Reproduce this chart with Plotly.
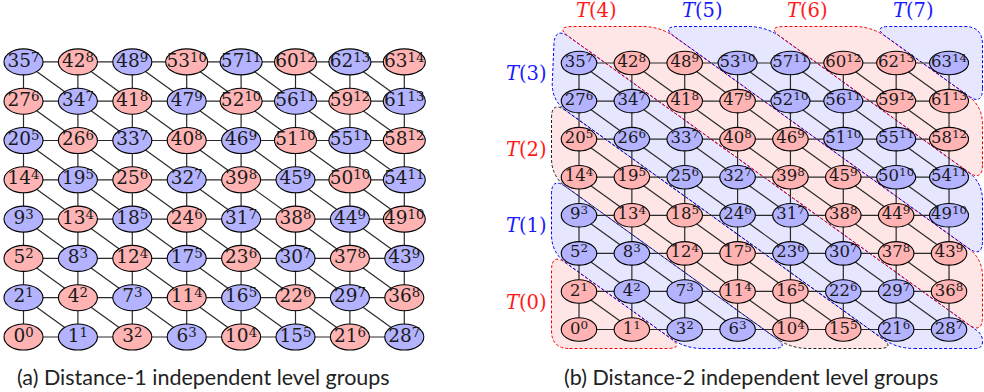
import math
import plotly.graph_objects as go

# ---------------- data (rows listed bottom -> top, columns left -> right) ----------------
VALUES = [
    [0, 1, 3, 6, 10, 15, 21, 28],
    [2, 4, 7, 11, 16, 22, 29, 36],
    [5, 8, 12, 17, 23, 30, 37, 43],
    [9, 13, 18, 24, 31, 38, 44, 49],
    [14, 19, 25, 32, 39, 45, 50, 54],
    [20, 26, 33, 40, 46, 51, 55, 58],
    [27, 34, 41, 47, 52, 56, 59, 61],
    [35, 42, 48, 53, 57, 60, 62, 63],
]
LEVELS = [
    [0, 1, 2, 3, 4, 5, 6, 7],
    [1, 2, 3, 4, 5, 6, 7, 8],
    [2, 3, 4, 5, 6, 7, 8, 9],
    [3, 4, 5, 6, 7, 8, 9, 10],
    [4, 5, 6, 7, 8, 9, 10, 11],
    [5, 6, 7, 8, 9, 10, 11, 12],
    [6, 7, 8, 9, 10, 11, 12, 13],
    [7, 8, 9, 10, 11, 12, 13, 14],
]
GROUP_IDS = [0, 1, 2, 3, 4, 5, 6, 7]
CAPTIONS = ["(a) Distance-1 independent level groups",
            "(b) Distance-2 independent level groups"]

# ---------------- style ----------------
W, H = 984, 392
RED_NODE, BLUE_NODE = "#ffb3b3", "#b3b3ff"
RED_BAND, BLUE_BAND = "#ffe6e6", "#e6e6ff"
BORDER_COLORS = ["#ff0000", "#0000ff", "#222222", "#0000ff",
                 "#ff0000", "#0000ff", "#ff0000", "#0000ff"]
EDGE_COLOR = "#2a2a2a"
TEXT_COLOR = "#1a1a1a"
NODE_FONT = "DejaVu Serif"
SUP_SCALE = 0.72      # superscript size relative to main text
SUP_RAISE = 0.30      # superscript baseline raise (em of main text)

PANELS = {
    "a": dict(xa="x", ya="y", x0=23.5, y0=337.0, sx=54.4, sy=39.3, dom=(0.0, 0.5),
              font=18.5, w_short=39, w_long=42, h=26),
    "b": dict(xa="x2", ya="y2", x0=579.0, y0=329.5, sx=52.86, sy=38.07, dom=(0.5, 1.0),
              font=16.5, w_short=35.5, w_long=39, h=23.5),
}

NROWS = len(VALUES)
NCOLS = len(VALUES[0])

fig = go.Figure()
shapes_fill, shapes_border, shapes_edges, shapes_nodes = [], [], [], []


def node_color(panel, lvl):
    if panel == "a":
        return RED_NODE if lvl % 2 == 0 else BLUE_NODE
    return RED_NODE if (lvl // 2) % 2 == 0 else BLUE_NODE


# ---------------- bands for panel (b) ----------------
def clip_halfplane(poly, f):
    out = []
    n = len(poly)
    for i in range(n):
        P, Q = poly[i], poly[(i + 1) % n]
        fp, fq = f(P), f(Q)
        if fp >= 0:
            out.append(P)
        if (fp >= 0) != (fq >= 0):
            t = fp / (fp - fq)
            out.append((P[0] + t * (Q[0] - P[0]), P[1] + t * (Q[1] - P[1])))
    return out


def rounded_path(poly, sx, sy, rad):
    def dist(a, b):
        return math.hypot((a[0] - b[0]) * sx, (a[1] - b[1]) * sy)
    pts = []
    for p in poly:
        if not pts or dist(p, pts[-1]) > 6:
            pts.append(p)
    if len(pts) > 2 and dist(pts[0], pts[-1]) <= 6:
        pts.pop()
    n = len(pts)
    segs = []
    for i in range(n):
        V, A, B = pts[i], pts[i - 1], pts[(i + 1) % n]
        la, lb = dist(V, A), dist(V, B)
        d = min(rad, 0.5 * la, 0.5 * lb)
        P1 = (V[0] + (A[0] - V[0]) * d / la, V[1] + (A[1] - V[1]) * d / la)
        P2 = (V[0] + (B[0] - V[0]) * d / lb, V[1] + (B[1] - V[1]) * d / lb)
        segs.append((P1, V, P2))
    f = lambda p: f"{p[0]:.4f},{p[1]:.4f}"
    path = "M " + f(segs[0][2])
    for i in list(range(1, n)) + [0]:
        P1, V, P2 = segs[i]
        path += f" L {f(P1)} Q {f(V)} {f(P2)}"
    return path + " Z"


pb = PANELS["b"]
L = (551.5 - pb["x0"]) / pb["sx"]
R = (982.5 - pb["x0"]) / pb["sx"]
T = pb["y0"] / pb["sy"] - 26.5 / pb["sy"]
B = (pb["y0"] - 348.5) / pb["sy"]
rect = [(L, B), (R, B), (R, T), (L, T)]
ngroups = len(GROUP_IDS)
for k in GROUP_IDS:
    poly = rect
    if k > 0:
        lo = 2 * k - 0.5
        poly = clip_halfplane(poly, lambda p, lo=lo: p[0] + p[1] - lo)
    if k < ngroups - 1:
        hi = 2 * k + 1.5
        poly = clip_halfplane(poly, lambda p, hi=hi: hi - (p[0] + p[1]))
    path = rounded_path(poly, pb["sx"], pb["sy"], 18)
    shapes_fill.append(dict(type="path", path=path, xref="x2", yref="y2", layer="below",
                            fillcolor=RED_BAND if k % 2 == 0 else BLUE_BAND,
                            line=dict(width=0)))
    shapes_border.append(dict(type="path", path=path, xref="x2", yref="y2", layer="below",
                              fillcolor="rgba(0,0,0,0)",
                              line=dict(color=BORDER_COLORS[k], width=1, dash="3px,2px")))

# ---------------- grids ----------------
for key, P in PANELS.items():
    xa, ya = P["xa"], P["ya"]
    F = P["font"]
    # edges
    for r in range(NROWS):
        for c in range(NCOLS):
            nbrs = []
            if c + 1 < NCOLS:
                nbrs.append((c + 1, r))
            if r + 1 < NROWS:
                nbrs.append((c, r + 1))
            if c + 1 < NCOLS and r - 1 >= 0:
                nbrs.append((c + 1, r - 1))
            for (c2, r2) in nbrs:
                shapes_edges.append(dict(type="line", xref=xa, yref=ya, layer="below",
                                         x0=c, y0=r, x1=c2, y1=r2,
                                         line=dict(color=EDGE_COLOR, width=1.2)))
    # nodes
    xs, ys, texts = [], [], []
    sup_style = (f"font-size:{F * SUP_SCALE:.1f}px;"
                 f"baseline-shift:{F * SUP_RAISE:.1f}px")
    for r in range(NROWS):
        for c in range(NCOLS):
            lvl = LEVELS[r][c]
            w = P["w_long"] if lvl >= 10 else P["w_short"]
            rx = w / 2 / P["sx"]
            ry = P["h"] / 2 / P["sy"]
            shapes_nodes.append(dict(type="circle", xref=xa, yref=ya, layer="below",
                                     x0=c - rx, x1=c + rx, y0=r - ry, y1=r + ry,
                                     fillcolor=node_color(key, lvl),
                                     line=dict(color="#000000", width=1.1)))
            xs.append(c)
            ys.append(r)
            texts.append(f"{VALUES[r][c]}<span style='{sup_style}'>{lvl}</span>")
    fig.add_trace(go.Scatter(x=xs, y=ys, text=texts, mode="text", xaxis=xa, yaxis=ya,
                             textposition="middle center", hoverinfo="skip",
                             textfont=dict(family=NODE_FONT, size=F, color=TEXT_COLOR),
                             showlegend=False))

# ---------------- axes ----------------
def axis_ranges(P):
    p0, p1 = P["dom"][0] * W, P["dom"][1] * W
    xr = [(p0 - P["x0"]) / P["sx"], (p1 - P["x0"]) / P["sx"]]
    yr = [(P["y0"] - H) / P["sy"], P["y0"] / P["sy"]]
    return xr, yr


ax_common = dict(visible=False, showgrid=False, zeroline=False, fixedrange=True)
xr, yr = axis_ranges(PANELS["a"])
xr2, yr2 = axis_ranges(PANELS["b"])

annotations = []
for k in GROUP_IDS:
    if k < 4:
        ax_x, ax_y = -1.0, 2 * k + 0.72
    else:
        ax_x, ax_y = 2 * (k - 4) + 0.33, 8.39
    annotations.append(dict(x=ax_x, y=ax_y, xref="x2", yref="y2", showarrow=False,
                            text=f"<i>T</i>({k})",
                            font=dict(family="DejaVu Serif", size=19.5,
                                      color="#ff1a1a" if k % 2 == 0 else "#1a1aff"),
                            xanchor="center", yanchor="middle"))
for cap, cx in zip(CAPTIONS, [203, 751]):
    annotations.append(dict(x=cx / W, y=1 - 377 / H, xref="paper", yref="paper",
                            showarrow=False, text=cap,
                            font=dict(family="Lato", size=21.5, color="#222222"),
                            xanchor="center", yanchor="middle"))

fig.update_layout(
    width=W, height=H,
    margin=dict(l=0, r=0, t=0, b=0),
    paper_bgcolor="white", plot_bgcolor="white",
    showlegend=False,
    xaxis=dict(domain=list(PANELS["a"]["dom"]), range=xr, **ax_common),
    yaxis=dict(domain=[0, 1], range=yr, **ax_common),
    xaxis2=dict(domain=list(PANELS["b"]["dom"]), range=xr2, **ax_common),
    yaxis2=dict(domain=[0, 1], range=yr2, anchor="x2", **ax_common),
    shapes=shapes_fill + shapes_border + shapes_edges + shapes_nodes,
    annotations=annotations,
)
fig.write_html("out.html", config={"displayModeBar": False},
               post_script="document.body.style.margin='0';document.body.style.overflow='hidden';")
